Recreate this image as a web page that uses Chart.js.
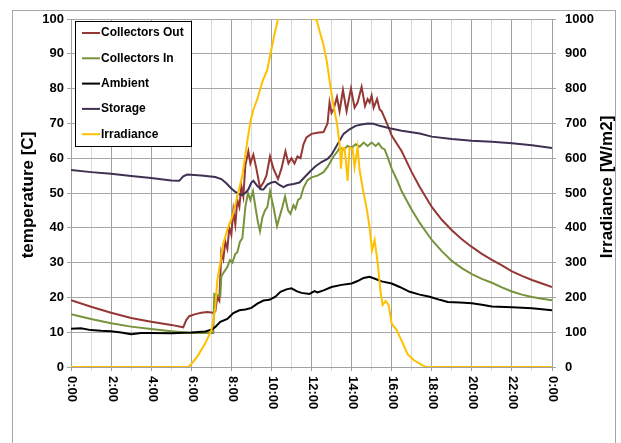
<!DOCTYPE html>
<html>
<head>
<meta charset="utf-8">
<script src="https://cdn.jsdelivr.net/npm/chart.js@4.4.1/dist/chart.umd.min.js"></script>
<style>
  body { margin: 0; background: #fff; }
  canvas { display: block; }
</style>
</head>
<body>
<canvas id="chartData" width="621" height="443"></canvas>
<script>
// hours of day, temperatures in C, irradiance in W/m2
var hourLabels = ['0:00', '2:00', '4:00', '6:00', '8:00', '10:00', '12:00', '14:00', '16:00', '18:00', '20:00', '22:00', '0:00'];

var outHours = [0, 1, 2, 3, 4, 5, 5.6, 5.75, 5.9, 6.2, 6.5, 6.8, 7.1, 7.2, 7.3, 7.4, 7.5, 7.6, 7.7, 7.8, 7.9, 8.0,
    8.1, 8.2, 8.3, 8.4, 8.5, 8.6, 8.7, 8.85, 8.95, 9.1, 9.25, 9.43, 9.6, 9.75, 9.93, 10.1, 10.33, 10.5, 10.7, 10.85,
    11.0, 11.15, 11.3, 11.45, 11.6, 11.75, 12.0, 12.3, 12.6, 12.8, 12.9, 13.0, 13.1, 13.27, 13.4, 13.57, 13.75, 13.97,
    14.15, 14.3, 14.5, 14.67, 14.8, 14.9, 15.0, 15.1, 15.27, 15.4, 15.5, 15.65, 15.8, 16.0, 16.5, 17.0, 17.4, 18.0,
    18.5, 19.0, 19.5, 20.0, 20.5, 21.0, 21.5, 22.0, 22.5, 23.0, 23.5, 24.0];
var outTemp = [19.2, 17.3, 15.6, 14.1, 13.0, 12.1, 11.4, 13.5, 14.6, 15.2, 15.6, 15.8, 15.6, 16, 20, 19, 33, 31, 36, 34, 40, 38,
    45, 41, 48, 46, 52, 49, 58, 62, 58.5, 61, 57, 51.5, 53, 55, 60.5, 57, 54, 57, 62, 58.5,
    60, 58.5, 60.5, 60, 64, 66, 67, 67.3, 67.5, 70, 76, 73, 74, 77.6, 73.5, 79.6, 73.5, 80,
    74.5, 76, 80.5, 75, 77, 76, 78, 74.5, 77, 74, 73.5, 71.5, 69.5, 66.5, 62, 56, 51.7, 46,
    42.3, 39.3, 36.7, 34.5, 32.5, 30.8, 29.2, 27.5, 26.2, 25, 24, 23];

var inHours = [0, 1, 2, 3, 4, 5, 6, 7.1, 7.15, 7.3, 7.45, 7.5, 7.6, 7.8, 7.93, 8.05, 8.2, 8.3, 8.43, 8.55, 8.7, 8.83,
    8.95, 9.08, 9.2, 9.33, 9.43, 9.55, 9.68, 9.8, 9.93, 10.1, 10.28, 10.4, 10.5, 10.68, 10.83, 10.95, 11.1, 11.2,
    11.33, 11.45, 11.6, 11.8, 12.0, 12.3, 12.6, 12.8, 13.0, 13.1, 13.3, 13.4, 13.6, 13.8, 14.0, 14.2, 14.4, 14.6,
    14.8, 15.0, 15.2, 15.35, 15.5, 15.65, 15.8, 16.0, 16.3, 16.5, 17.0, 17.4, 18.0, 18.5, 19.0, 19.5, 20.0, 20.5,
    21.0, 21.5, 22.0, 22.5, 23.0, 23.5, 24.0];
var inTemp = [15.2, 13.8, 12.6, 11.6, 10.9, 10.3, 9.8, 9.8, 21, 20.7, 20.5, 26, 27, 28.7, 30.7, 30, 32.5, 33, 36, 37, 46, 50,
    48, 50.5, 46, 41.5, 39, 43, 45, 46, 50.5, 46, 40.5, 43, 45, 49, 45, 44, 46.5, 45.5,
    48, 48.5, 51.5, 53.7, 54.5, 55, 56, 57.5, 59.5, 60.5, 62, 63, 62.5, 63.5, 63, 64, 63.3, 64.5,
    63.5, 64.5, 63.5, 64.3, 63, 62.5, 60.3, 57, 53.3, 50.5, 45.2, 41.4, 36.5, 33.3, 30.5, 28.4, 26.7, 25.3,
    24.2, 22.9, 21.7, 20.8, 20.1, 19.6, 19.2];

var ambHours = [0, 0.5, 1.0, 1.5, 2.0, 2.5, 3.0, 3.5, 4.0, 5.0, 6.0, 6.7, 7.0, 7.2, 7.45, 7.8, 8.1, 8.4, 8.7, 9.0,
    9.3, 9.6, 9.9, 10.2, 10.45, 10.75, 11.0, 11.25, 11.5, 11.9, 12.15, 12.3, 12.6, 13.0, 13.5, 14.0, 14.3, 14.6,
    14.9, 15.2, 15.5, 16.0, 16.4, 16.9, 17.4, 17.9, 18.4, 18.8, 19.4, 20.0, 20.5, 21.0, 22.0, 23.0, 24.0];
var ambTemp = [11.0, 11.1, 10.6, 10.4, 10.3, 9.9, 9.4, 9.8, 9.8, 9.7, 9.9, 10.2, 10.7, 11.5, 13.0, 13.8, 15.5, 16.3, 16.5, 17,
    18.2, 19.1, 19.3, 20.2, 21.6, 22.3, 22.6, 21.8, 21.3, 21.0, 21.8, 21.4, 22.0, 23.0, 23.6, 24.0, 24.7, 25.6,
    25.9, 25.3, 24.6, 24.0, 23.0, 21.6, 20.8, 20.2, 19.3, 18.7, 18.5, 18.3, 17.9, 17.4, 17.2, 16.9, 16.3];

var stoHours = [0, 1, 2, 3, 4, 5.0, 5.4, 5.6, 5.8, 6.5, 7.2, 7.5, 7.75, 8.0, 8.2, 8.5, 8.7, 8.85, 9.0, 9.1, 9.3, 9.5,
    9.6, 9.8, 10.0, 10.2, 10.4, 10.6, 10.8, 11.1, 11.4, 11.7, 11.95, 12.2, 12.5, 12.8, 13.0, 13.3, 13.6, 13.9, 14.2,
    14.5, 14.8, 15.1, 15.4, 15.9, 16.5, 17.4, 18.0, 19.0, 20.0, 21.0, 22.0, 23.0, 24.0];
var stoTemp = [56.6, 56.0, 55.5, 54.9, 54.3, 53.6, 53.5, 54.8, 55.3, 55.0, 54.6, 54.0, 52.8, 51.3, 50.3, 49.4, 50.0, 51.0, 53.0, 53.5, 52.0, 51.0,
    51.0, 52.4, 53.0, 53.2, 52.3, 51.7, 52.3, 52.6, 53.0, 54.8, 56.3, 57.7, 58.9, 59.8, 61.0, 64.0, 67.0, 68.3, 69.3,
    69.7, 70.0, 69.9, 69.3, 68.6, 67.9, 67.1, 66.2, 65.5, 65.0, 64.7, 64.3, 63.7, 62.9];

var irrHours = [0, 5.85, 6.0, 6.3, 6.7, 7.0, 7.1, 7.2, 7.3, 7.45, 7.6, 7.8, 8.05, 8.3, 8.55, 8.7, 8.8, 8.95, 9.1, 9.3,
    9.55, 9.8, 9.95, 10.2, 10.33, 10.7, 11.2, 11.7, 12.08, 12.25, 12.43, 12.6, 12.77, 12.92, 13.07, 13.27, 13.42,
    13.47, 13.55, 13.65, 13.72, 13.8, 13.9, 14.05, 14.15, 14.3, 14.4, 14.57, 14.77, 14.9, 15.02, 15.15, 15.3, 15.45,
    15.55, 15.7, 15.85, 16.0, 16.25, 16.5, 16.8, 17.1, 17.5, 17.7, 24];
var irrValue = [0, 0, 8, 30, 68, 105, 130, 172, 250, 300, 355, 395, 432, 490, 550, 610, 650, 705, 740, 770,
    820, 855, 900, 968, 1000, 1080, 1120, 1080, 1000, 998, 960, 925, 876, 815, 760, 700, 632,
    570, 630, 628, 590, 535, 630, 628, 575, 632, 566, 509, 450, 400, 335, 365, 300, 215,
    178, 190, 178, 125, 106, 75, 36, 20, 6, 0, 0];

var seriesNames = ['Collectors Out', 'Collectors In', 'Ambient', 'Storage', 'Irradiance'];
var seriesColors = ['#953735', '#77933c', '#000000', '#403152', '#ffc000'];

function toPoints(hours, values) {
    return hours.map((h, i) => ({ x: h, y: values[i] }));
}

var FONT = '"Liberation Sans", Arial, sans-serif';

var framePlugin = {
    id: 'frame',
    beforeDraw(chart) {
        const c = chart.ctx;
        c.save();
        c.fillStyle = '#fff';
        c.fillRect(0, 0, chart.width, chart.height);
        c.strokeStyle = '#a6a6a6';
        c.lineWidth = 1;
        c.strokeRect(12.5, 10.5, 603, 445);
        c.restore();
    },
    afterDraw(chart) {
        const c = chart.ctx;
        const x = chart.scales.x;
        const area = chart.chartArea;
        c.save();
        // x tick labels, rotated clockwise
        c.fillStyle = '#000';
        c.font = 'bold 13px ' + FONT;
        c.textAlign = 'left';
        c.textBaseline = 'middle';
        hourLabels.forEach((lab, i) => {
            c.save();
            c.translate(x.getPixelForValue(i * 2) + 1, area.bottom + 9);
            c.rotate(Math.PI / 2);
            c.fillText(lab, 0, 0);
            c.restore();
        });
        // axis titles
        c.font = 'bold 17px ' + FONT;
        c.textAlign = 'center';
        c.save();
        c.translate(28, 195);
        c.rotate(-Math.PI / 2);
        c.fillText('temperature [C]', 0, 0);
        c.restore();
        c.save();
        c.translate(607, 187);
        c.rotate(-Math.PI / 2);
        c.fillText('Irradiance [W/m2]', 0, 0);
        c.restore();
        // legend box
        c.fillStyle = '#fff';
        c.fillRect(75, 21, 116, 126);
        c.strokeStyle = '#000';
        c.lineWidth = 1;
        c.strokeRect(75.5, 21.5, 116, 125);
        c.font = 'bold 12px ' + FONT;
        c.textAlign = 'left';
        seriesNames.forEach((name, i) => {
            const yy = 33 + i * 25.3;
            c.strokeStyle = seriesColors[i];
            c.lineWidth = 2;
            c.beginPath();
            c.moveTo(82, yy);
            c.lineTo(100, yy);
            c.stroke();
            c.fillStyle = '#000';
            c.fillText(name, 101, yy);
        });
        c.restore();
    }
};

var chartData = new Chart(document.getElementById('chartData').getContext('2d'), {
    type: 'line',
    data: {
        datasets: [{
            label: seriesNames[0],
            data: toPoints(outHours, outTemp),
            borderColor: seriesColors[0],
            yAxisID: 'y',
            order: 5
        }, {
            label: seriesNames[1],
            data: toPoints(inHours, inTemp),
            borderColor: seriesColors[1],
            yAxisID: 'y',
            order: 4
        }, {
            label: seriesNames[2],
            data: toPoints(ambHours, ambTemp),
            borderColor: seriesColors[2],
            yAxisID: 'y',
            order: 3
        }, {
            label: seriesNames[3],
            data: toPoints(stoHours, stoTemp),
            borderColor: seriesColors[3],
            yAxisID: 'y',
            order: 2
        }, {
            label: seriesNames[4],
            data: toPoints(irrHours, irrValue),
            borderColor: seriesColors[4],
            yAxisID: 'y2',
            order: 1
        }]
    },
    options: {
        responsive: false,
        animation: false,
        devicePixelRatio: 1,
        layout: { padding: { top: 19, left: 0, right: 0, bottom: 0 } },
        elements: {
            line: { borderWidth: 2, tension: 0 },
            point: { radius: 0 }
        },
        plugins: {
            legend: { display: false },
            tooltip: { enabled: false }
        },
        scales: {
            x: {
                type: 'linear',
                min: 0,
                max: 24,
                ticks: { stepSize: 1, display: false },
                grid: {
                    color: (c) => (c.tick && c.tick.value % 2 === 0) ? '#a0a0a0' : '#d9d9d9',
                    tickLength: 4
                },
                border: { color: '#a0a0a0' },
                afterFit: (s) => { s.height = 76; }
            },
            y: {
                position: 'left',
                min: 0,
                max: 100,
                ticks: {
                    stepSize: 10,
                    padding: 3,
                    color: '#000',
                    font: { family: FONT, size: 13, weight: 'bold' },
                    callback: (v) => String(v)
                },
                grid: { color: '#a6a6a6', tickLength: 4 },
                border: { color: '#a0a0a0' },
                afterFit: (s) => { s.width = 71; }
            },
            y2: {
                position: 'right',
                min: 0,
                max: 1000,
                ticks: {
                    stepSize: 100,
                    padding: 9,
                    color: '#000',
                    font: { family: FONT, size: 13, weight: 'bold' },
                    callback: (v) => String(v)
                },
                grid: { drawOnChartArea: false, color: '#a6a6a6', tickLength: 4 },
                border: { color: '#a0a0a0' },
                afterFit: (s) => { s.width = 69; }
            }
        }
    },
    plugins: [framePlugin]
});
</script>
</body>
</html>
